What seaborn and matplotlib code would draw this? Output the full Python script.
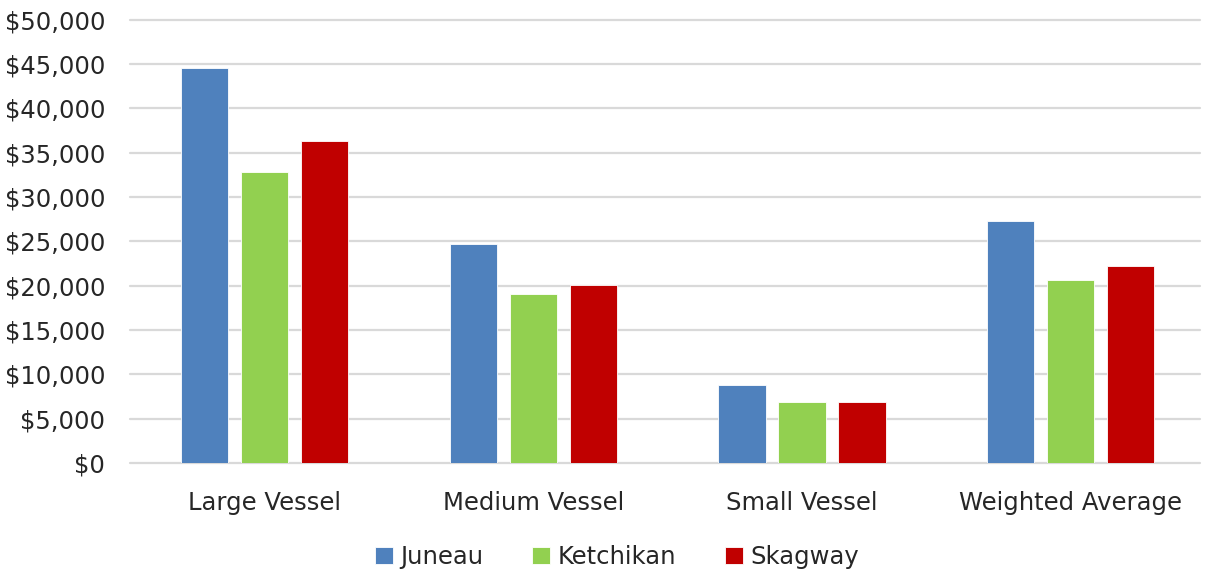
import pandas as pd
import matplotlib.pyplot as plt
import matplotlib.ticker as mticker
import seaborn as sns

categories = ['Large Vessel', 'Medium Vessel', 'Small Vessel', 'Weighted Average']
ports = ['Juneau', 'Ketchikan', 'Skagway']
juneau = [44500, 24700, 8800, 27300]
ketchikan = [32800, 19100, 6900, 20700]
skagway = [36300, 20100, 6900, 22200]
colors = ['#4F81BD', '#92D050', '#C00000']

df = pd.DataFrame({
    'Category': categories * 3,
    'Port': [p for p in ports for _ in categories],
    'Cost': juneau + ketchikan + skagway,
})

sns.set_style('white')
plt.rcParams['font.family'] = ['DejaVu Sans']

fig = plt.figure(figsize=(12.07, 5.74), dpi=100)
ax = fig.add_axes([0.108, 0.193, 0.886, 0.773])

sns.barplot(data=df, x='Category', y='Cost', hue='Port', order=categories,
            hue_order=ports, palette=colors, saturation=1, width=0.67, gap=0.21,
            edgecolor='white', linewidth=0.6, ax=ax, zorder=3)

ax.set_ylim(0, 50000)
ax.set_xlim(-0.5, 3.48)
ax.yaxis.set_major_locator(mticker.MultipleLocator(5000))
ax.yaxis.set_major_formatter(mticker.FuncFormatter(lambda v, p: f'${v:,.0f}'))
ax.grid(axis='y', color='#D9D9D9', linewidth=1.6, zorder=0)
for gl in ax.get_ygridlines():
    gl.set_clip_on(False)
ax.set_axisbelow(True)
for s in ax.spines.values():
    s.set_visible(False)
ax.set_xlabel('')
ax.set_ylabel('')
ax.tick_params(axis='both', length=0, labelsize=17.5, colors='#262626')
ax.tick_params(axis='y', pad=18)
ax.tick_params(axis='x', pad=20)

ax.legend(loc='upper center', bbox_to_anchor=(0.455, -0.135), ncol=3,
          frameon=False, fontsize=17.5, handlelength=0.75, handleheight=0.75,
          handletextpad=0.3, columnspacing=2.0, labelcolor='#262626')

fig.savefig('out.png', dpi=100)
